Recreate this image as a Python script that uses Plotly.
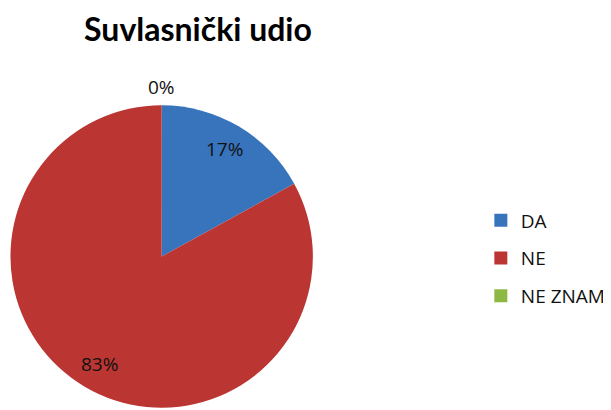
import math
import plotly.graph_objects as go

labels = ["DA", "NE", "NE ZNAM"]
values = [17, 83, 0]
colors = ["#3874BC", "#BB3633", "#8DB843"]
title_text = "Suvlasnički udio"

# the page body adds an 8px margin, so the figure is sized to the visible area
W, H = 603, 402
T = 95
total = sum(values)
R = (H - T) / 2
CX, CY = 156, T + R
LABEL_FRAC = 0.81

fig = go.Figure()
fig.add_trace(go.Pie(
    labels=labels, values=values, sort=False, direction="clockwise", rotation=0,
    marker=dict(colors=colors, line=dict(width=0)),
    textinfo="none",
    showlegend=False,
    domain=dict(x=[(CX - R) / W, (CX + R) / W], y=[0, 1]),
))

# data labels (percentages derived from the values), placed along each slice's bisector
lab_font = dict(color="#111111", size=19, family="Open Sans")
cum = 0.0
for lab, v in zip(labels, values):
    frac = v / total
    mid = (cum + frac / 2) * 2 * math.pi
    cum += frac
    if v == 0:
        fig.add_annotation(text=f"{frac:.0%}", x=CX / W, y=1, xref="paper", yref="paper",
                           xanchor="center", yanchor="bottom", showarrow=False, yshift=1,
                           font=lab_font)
    else:
        px = CX + LABEL_FRAC * R * math.sin(mid)
        py = CY - LABEL_FRAC * R * math.cos(mid)
        fig.add_annotation(text=f"{frac:.0%}", x=px / W, y=(H - py) / (H - T),
                           xref="paper", yref="paper", xanchor="center", yanchor="middle",
                           showarrow=False, font=lab_font)

for lab, col in zip(labels, colors):
    fig.add_trace(go.Scatter(
        x=[None], y=[None], mode="markers", name=lab, legendgroup=lab,
        marker=dict(symbol="square", size=13, color=col),
        showlegend=True,
    ))

fig.update_layout(
    width=W, height=H,
    margin=dict(l=0, r=0, t=T, b=0),
    paper_bgcolor="white", plot_bgcolor="white",
    title=dict(text="<b>" + title_text + "</b>", x=190 / W, xanchor="center",
               y=1 - 22 / H, yanchor="middle",
               font=dict(family="Lato", size=32, color="#000000")),
    xaxis=dict(visible=False), yaxis=dict(visible=False),
    legend=dict(x=480 / W, y=(H - 250.5) / (H - T), xanchor="left", yanchor="middle",
                yref="paper", tracegroupgap=10,
                font=dict(family="Open Sans", size=19, color="#111111"),
                itemwidth=30),
)
fig.write_html("out.html")
